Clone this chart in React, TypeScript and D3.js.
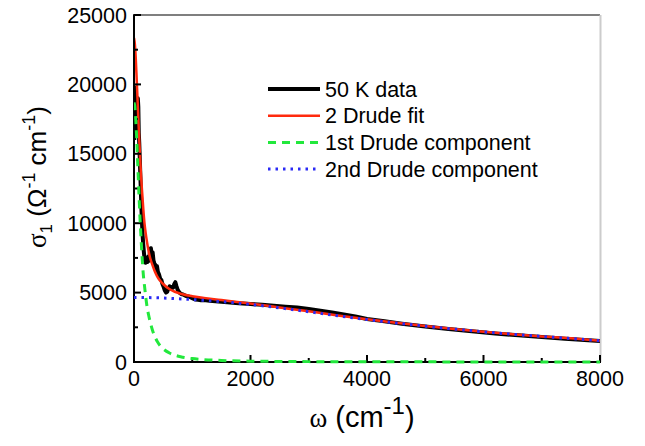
import React from 'react';
import * as d3 from 'd3';

const xMajorTicks = [0, 2000, 4000, 6000, 8000];
const xMinorTicks = [1000, 3000, 5000, 7000];
const yMajorTicks = [0, 5000, 10000, 15000, 20000, 25000];
const yMinorTicks = [2500, 7500, 12500, 17500, 22500];

const dataOmega = [5, 10, 15, 20, 28, 35, 42, 50, 58, 66, 74, 82, 90, 100, 110, 120, 130, 140, 150, 160, 170, 180, 190, 200, 215, 230, 245, 260, 275, 290, 305, 320, 335, 350, 365, 380, 395, 410, 430, 450, 470, 490, 510, 530, 550, 570, 590, 610, 630, 650, 670, 690, 710, 730, 750, 780, 810, 850, 900, 950, 1000, 1050, 1100, 1150, 1200, 1300, 1400, 1500, 1600, 1800, 2000, 2200, 2400, 2600, 2800, 3000, 3200, 3400, 3600, 3800, 4000, 4300, 4600, 5000, 5400, 5800, 6200, 6600, 7000, 7400, 7800, 8000];
const dataSigma = [16000, 19800, 17500, 19500, 16800, 18200, 17000, 18800, 17600, 19000, 18400, 16500, 15800, 14600, 13300, 12000, 10800, 9800, 9000, 8400, 7900, 7500, 7300, 7150, 7500, 7200, 7600, 7300, 8000, 8200, 7700, 7900, 7300, 7100, 7000, 6700, 6900, 6500, 6300, 6000, 5900, 5600, 5400, 5150, 5000, 5050, 5300, 5450, 5300, 5400, 5350, 5600, 5750, 5450, 5200, 5000, 4900, 4850, 4750, 4700, 4600, 4500, 4480, 4450, 4470, 4420, 4380, 4340, 4300, 4230, 4180, 4120, 4060, 3990, 3920, 3820, 3700, 3570, 3420, 3280, 3100, 2930, 2760, 2560, 2380, 2210, 2060, 1920, 1800, 1680, 1570, 1510];

const fitOmega = [0, 15, 30, 45, 60, 75, 90, 105, 120, 140, 160, 180, 200, 225, 250, 280, 320, 360, 400, 450, 500, 600, 700, 800, 1000, 1200, 1500, 2000, 2500, 3000, 3500, 4000, 4500, 5000, 5500, 6000, 6500, 7000, 7500, 8000];
const fitSigma = [23350, 22900, 21900, 20500, 19000, 17500, 16000, 14700, 13500, 12200, 11000, 10000, 9300, 8600, 8000, 7450, 6950, 6500, 6150, 5850, 5620, 5280, 5060, 4920, 4740, 4620, 4460, 4210, 3930, 3650, 3350, 3075, 2820, 2590, 2378, 2177, 2005, 1845, 1704, 1534];

const drude1Omega = [0, 15, 30, 45, 60, 75, 90, 105, 120, 140, 160, 180, 200, 225, 250, 280, 320, 360, 400, 450, 500, 600, 700, 800, 1000, 1200, 1500, 2000, 3000, 4000, 5000, 6000, 7000, 8000];
const drude1Sigma = [18700, 18390, 17500, 16200, 14700, 13100, 11600, 10200, 8980, 7500, 6300, 5500, 4750, 3950, 3400, 2850, 2250, 1800, 1480, 1170, 950, 670, 495, 380, 245, 170, 110, 62, 27, 15, 10, 7, 5, 4];

const drude2Omega = [0, 250, 500, 750, 1000, 1250, 1500, 2000, 2500, 3000, 3500, 4000, 4500, 5000, 5500, 6000, 6500, 7000, 7500, 8000];
const drude2Sigma = [4650, 4640, 4610, 4560, 4500, 4430, 4350, 4150, 3900, 3620, 3330, 3060, 2810, 2580, 2370, 2170, 2000, 1840, 1690, 1530];

const legendLabels = ['50 K data', '2 Drude fit', '1st Drude component', '2nd Drude component'];
const legendColors = ['#000000', '#ff2a0e', '#22e83c', '#2a2af5'];
const legendWidths = [4, 2.5, 3, 3];
const legendDash = ['none', 'none', '8 6', '2.5 5'];

const FONT = '"Liberation Sans", Arial, sans-serif';

export default function App() {
  const W = 645, H = 446;
  const x = d3.scaleLinear().domain([0, 8000]).range([134, 600]);
  const y = d3.scaleLinear().domain([0, 25000]).range([362, 15]);

  const mk = (xs: number[], ys: number[], curve: any) =>
    d3.line<number>()
      .x((_, i) => x(xs[i]))
      .y((d) => y(d))
      .curve(curve)(ys) || '';

  const dataPath = mk(dataOmega, dataSigma, d3.curveLinear);
  const fitPath = mk(fitOmega, fitSigma, d3.curveMonotoneX);
  const d1Path = mk(drude1Omega, drude1Sigma, d3.curveMonotoneX);
  const d2Path = mk(drude2Omega, drude2Sigma, d3.curveMonotoneX);

  const [x0, x1] = x.range();
  const [y0, y1] = y.range();

  const legX0 = 268, legX1 = 320, legY0 = 89, legDy = 26.7;

  return (
    <div style={{ position: 'absolute', left: 0, top: 0 }}>
      <svg width={W} height={H} style={{ display: 'block', background: '#fff' }}>
        <defs>
          <clipPath id="plotclip">
            <rect x={x0} y={y1} width={x1 - x0} height={y0 - y1 + 2} />
          </clipPath>
        </defs>
        <rect x={0} y={0} width={W} height={H} fill="#fff" />

        {/* frame */}
        <line x1={x0} x2={x1} y1={y1} y2={y1} stroke="#555" strokeWidth={1.5} />
        <line x1={x1 + 0.5} x2={x1 + 0.5} y1={y1} y2={y0} stroke="#ccc" strokeWidth={2} />

        {/* curves */}
        <g clipPath="url(#plotclip)">
          <path d={dataPath} fill="none" stroke={legendColors[0]} strokeWidth={4} strokeLinejoin="round" />
          <path d={fitPath} fill="none" stroke={legendColors[1]} strokeWidth={2.5} />
        </g>

        {/* axes */}
        <line x1={x0} x2={x1 + 1} y1={y0} y2={y0} stroke="#000" strokeWidth={2} />
        <line x1={x0} x2={x0} y1={y1 - 0.75} y2={y0 + 1} stroke="#000" strokeWidth={2} />
        {xMajorTicks.map((t) => (
          <line key={'xM' + t} x1={x(t)} x2={x(t)} y1={y0} y2={y0 - 7} stroke="#000" strokeWidth={2} />
        ))}
        {xMinorTicks.map((t) => (
          <line key={'xm' + t} x1={x(t)} x2={x(t)} y1={y0} y2={y0 - 4} stroke="#000" strokeWidth={2} />
        ))}
        {yMajorTicks.map((t) => (
          <line key={'yM' + t} x1={x0} x2={x0 + 7} y1={y(t)} y2={y(t)} stroke="#000" strokeWidth={2} />
        ))}
        {yMinorTicks.map((t) => (
          <line key={'ym' + t} x1={x0} x2={x0 + 4} y1={y(t)} y2={y(t)} stroke="#000" strokeWidth={2} />
        ))}

        <g clipPath="url(#plotclip)">
          <path d={d1Path} fill="none" stroke={legendColors[2]} strokeWidth={3} strokeDasharray={legendDash[2]} />
          <path d={d2Path} fill="none" stroke={legendColors[3]} strokeWidth={3} strokeDasharray={legendDash[3]} />
        </g>

        {/* tick labels */}
        {yMajorTicks.map((t) => (
          <text key={'yl' + t} x={127} y={y(t) + 7.6} textAnchor="end" fontFamily={FONT} fontSize={21.5} fill="#000">
            {t}
          </text>
        ))}
        {xMajorTicks.map((t) => (
          <text key={'xl' + t} x={x(t)} y={386} textAnchor="middle" fontFamily={FONT} fontSize={21.5} fill="#000">
            {t}
          </text>
        ))}

        {/* axis titles */}
        <text x={362} y={427} textAnchor="middle" fontFamily={FONT} fontSize={29} fill="#000">
          <tspan fontFamily='"Liberation Serif", serif' fontSize={27}>ω</tspan>
          <tspan> (cm</tspan>
          <tspan fontSize={24} dy={-13}>-1</tspan>
          <tspan dy={13}>)</tspan>
        </text>
        <text transform="translate(46,177) rotate(-90)" textAnchor="middle" fontFamily={FONT} fontSize={26} fill="#000">
          <tspan fontFamily='"Liberation Serif", serif' fontSize={27}>σ</tspan>
          <tspan fontSize={17} dy={6}>1</tspan>
          <tspan dy={-6}> (Ω</tspan>
          <tspan fontSize={18} dy={-11}>-1</tspan>
          <tspan dy={11}> cm</tspan>
          <tspan fontSize={18} dy={-11}>-1</tspan>
          <tspan dy={11}>)</tspan>
        </text>

        {/* legend */}
        {legendLabels.map((lab, i) => (
          <g key={lab}>
            <line x1={legX0} x2={legX1} y1={legY0 + i * legDy} y2={legY0 + i * legDy}
              stroke={legendColors[i]} strokeWidth={legendWidths[i]} strokeDasharray={legendDash[i]} />
            <text x={325} y={legY0 + i * legDy + 7.6} fontFamily={FONT} fontSize={21.5} fill="#000">{lab}</text>
          </g>
        ))}
      </svg>
    </div>
  );
}
